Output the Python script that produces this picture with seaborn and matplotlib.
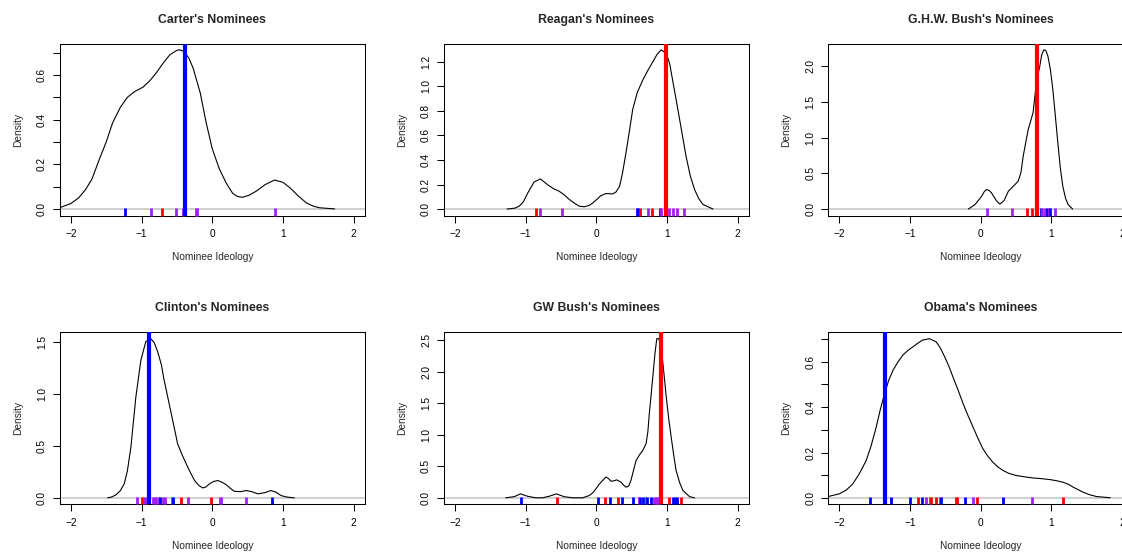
import numpy as np
import pandas as pd
import matplotlib
matplotlib.use("Agg")
import matplotlib.pyplot as plt
import seaborn as sns

sns.set_style("ticks")
plt.rcParams['font.family'] = ['Liberation Sans', 'DejaVu Sans']

# ---------------- data ----------------
titles = ["Carter's Nominees", "Reagan's Nominees", "G.H.W. Bush's Nominees",
          "Clinton's Nominees", "GW Bush's Nominees", "Obama's Nominees"]

# president ideology (vertical line) and party
pres_ideo = [-0.38, 0.98, 0.79, -0.90, 0.92, -1.36]
pres_party = ["D", "R", "R", "D", "R", "D"]

# density curves (x grid, density)
carter_x = [-2.16, -2.0, -1.89, -1.79, -1.7, -1.6, -1.5, -1.41, -1.3, -1.2, -1.1, -0.98, -0.88, -0.79,
            -0.7, -0.6, -0.5, -0.46, -0.42, -0.39, -0.33, -0.27, -0.17, -0.085, 0.0, 0.10, 0.2, 0.29,
            0.36, 0.43, 0.52, 0.62, 0.75, 0.88, 1.0, 1.10, 1.22, 1.33, 1.43, 1.52, 1.73]
carter_y = [0.006, 0.025, 0.05, 0.088, 0.135, 0.22, 0.30, 0.385, 0.455, 0.50, 0.525, 0.545, 0.575,
            0.61, 0.65, 0.69, 0.71, 0.712, 0.708, 0.70, 0.675, 0.63, 0.52, 0.385, 0.27, 0.18, 0.115,
            0.07, 0.056, 0.053, 0.062, 0.08, 0.11, 0.13, 0.12, 0.095, 0.058, 0.028, 0.013, 0.006, 0.001]

reagan_x = [-1.26, -1.15, -1.09, -1.03, -0.97, -0.88, -0.79, -0.69, -0.6, -0.525, -0.45, -0.38, -0.3,
            -0.24, -0.17, -0.1, -0.05, 0.0, 0.066, 0.137, 0.23, 0.28, 0.33, 0.37, 0.42, 0.47, 0.515,
            0.58, 0.657, 0.73, 0.80, 0.86, 0.917, 0.99, 1.04, 1.08, 1.13, 1.18, 1.27, 1.33, 1.39,
            1.45, 1.51, 1.65]
reagan_y = [0.001, 0.008, 0.024, 0.06, 0.13, 0.22, 0.246, 0.20, 0.165, 0.146, 0.115, 0.078, 0.045,
            0.024, 0.019, 0.03, 0.05, 0.075, 0.11, 0.127, 0.124, 0.14, 0.186, 0.29, 0.457, 0.64, 0.81,
            0.95, 1.05, 1.13, 1.2, 1.26, 1.297, 1.27, 1.18, 1.05, 0.89, 0.727, 0.43, 0.27, 0.16,
            0.085, 0.038, 0.001]

ghwb_x = [-0.175, -0.08, 0.013, 0.05, 0.083, 0.12, 0.15, 0.22, 0.27, 0.33, 0.39, 0.46, 0.53, 0.57,
          0.60, 0.67, 0.74, 0.79, 0.835, 0.86, 0.89, 0.92, 0.95, 0.985, 1.02, 1.055, 1.09, 1.125,
          1.16, 1.2, 1.235, 1.3]
ghwb_y = [0.001, 0.065, 0.18, 0.245, 0.275, 0.26, 0.23, 0.12, 0.07, 0.12, 0.25, 0.32, 0.39, 0.52,
          0.74, 1.11, 1.35, 1.8, 2.0, 2.15, 2.228, 2.22, 2.14, 1.95, 1.67, 1.3, 0.93, 0.58,
          0.32, 0.15, 0.065, 0.001]

clinton_x = [-1.48, -1.42, -1.36, -1.3, -1.245, -1.2, -1.15, -1.08, -1.01, -0.94, -0.87, -0.82, -0.77,
             -0.72, -0.68, -0.63, -0.58, -0.53, -0.49, -0.43, -0.37, -0.31, -0.25, -0.19, -0.135,
             -0.09, -0.04, 0.02, 0.078, 0.14, 0.196, 0.25, 0.31, 0.40, 0.48, 0.56, 0.645, 0.74,
             0.83, 0.9, 0.975, 1.06, 1.16]
clinton_y = [0.001, 0.01, 0.03, 0.07, 0.135, 0.26, 0.49, 0.97, 1.32, 1.5, 1.529, 1.49, 1.40,
             1.28, 1.13, 0.97, 0.81, 0.65, 0.52, 0.42, 0.33, 0.245, 0.167, 0.12, 0.096,
             0.105, 0.135, 0.158, 0.167, 0.15, 0.128, 0.095, 0.064, 0.06, 0.071, 0.06, 0.039, 0.05,
             0.071, 0.055, 0.022, 0.008, 0.001]

gwb_x = [-1.28, -1.16, -1.07, -0.97, -0.855, -0.76, -0.667, -0.563, -0.454, -0.336, -0.194, -0.1,
         -0.05, -0.005, 0.04, 0.09, 0.137, 0.17, 0.208, 0.25, 0.288, 0.35, 0.39, 0.42, 0.46, 0.49,
         0.53, 0.563, 0.61, 0.657, 0.705, 0.73, 0.75, 0.775, 0.80, 0.83, 0.856, 0.885, 0.917, 0.95,
         0.99, 1.025, 1.06, 1.095, 1.13, 1.18, 1.225, 1.32, 1.39]
gwb_y = [0.002, 0.02, 0.064, 0.026, 0.002, 0.002, 0.026, 0.064, 0.02, 0.002, 0.002, 0.037,
         0.08, 0.143, 0.215, 0.275, 0.33, 0.31, 0.265, 0.27, 0.286, 0.25, 0.2, 0.17, 0.19, 0.275,
         0.45, 0.59, 0.68, 0.75, 0.86, 1.05, 1.33, 1.62, 1.92, 2.28, 2.52, 2.52, 2.39, 2.05,
         1.6, 1.25, 0.96, 0.68, 0.43, 0.24, 0.117, 0.02, 0.002]

obama_x = [-2.16, -2.0, -1.9, -1.81, -1.72, -1.62, -1.55, -1.48, -1.42, -1.36, -1.3, -1.24, -1.17,
           -1.10, -1.03, -0.96, -0.89, -0.82, -0.725, -0.63, -0.57, -0.51, -0.45, -0.394, -0.32,
           -0.25, -0.18, -0.11, -0.04, 0.03, 0.1, 0.17, 0.24, 0.315, 0.4, 0.5, 0.62, 0.74, 0.86,
           0.975, 1.07, 1.165, 1.24, 1.31, 1.38, 1.45, 1.54, 1.64, 1.83]
obama_y = [0.006, 0.018, 0.035, 0.062, 0.105, 0.165, 0.23, 0.31, 0.39, 0.46, 0.52, 0.563, 0.60,
           0.63, 0.65, 0.666, 0.682, 0.696, 0.702, 0.688, 0.66, 0.622, 0.58, 0.534, 0.475,
           0.416, 0.363, 0.313, 0.263, 0.217, 0.184, 0.158, 0.137, 0.121, 0.108, 0.099, 0.093, 0.088,
           0.085, 0.081, 0.076, 0.069, 0.06, 0.047, 0.036, 0.025, 0.014, 0.006, 0.001]

# nominee ideology (rug) and colour group
carter_nom = [-1.23, -0.87, -0.71, -0.515, -0.42, -0.235, -0.215, 0.89]
carter_grp = ["D", "I", "R", "I", "I", "I", "I", "I"]

reagan_nom = [-0.85, -0.80, -0.49, 0.57, 0.595, 0.625, 0.735, 0.795, 0.895, 0.92, 1.035, 1.08,
              1.135, 1.245]
reagan_grp = ["R", "I", "I", "D", "D", "R", "I", "R", "D", "I", "I", "I", "I", "I"]

ghwb_nom = [0.09, 0.435, 0.66, 0.73, 0.85, 0.873, 0.91, 0.943, 0.967, 0.986, 1.047]
ghwb_grp = ["I", "I", "R", "R", "D", "I", "I", "D", "I", "D", "I"]

clinton_nom = [-1.065, -0.99, -0.968, -0.935, -0.84, -0.81, -0.79, -0.75, -0.737, -0.69, -0.67,
               -0.572, -0.55, -0.436, -0.337, -0.021, 0.106, 0.13, 0.483, 0.846]
clinton_grp = ["I", "R", "I", "I", "I", "I", "I", "I", "D", "I", "I", "I", "D", "R", "I", "R",
               "I", "I", "I", "D"]

gwb_nom = [-1.065, -0.556, 0.022, 0.13, 0.2, 0.305, 0.36, 0.52, 0.605, 0.625, 0.66, 0.70, 0.72,
           0.78, 0.82, 0.845, 0.865, 0.885, 0.90, 1.03, 1.08, 1.11, 1.135, 1.205]
gwb_grp = ["D", "R", "D", "R", "D", "R", "D", "D", "I", "D", "D", "I", "D", "D", "I", "I", "I",
           "I", "I", "R", "D", "D", "D", "R"]

obama_nom = [-1.56, -1.27, -0.996, -0.894, -0.835, -0.775, -0.717, -0.70, -0.635, -0.578, -0.557,
             -0.35, -0.332, -0.226, -0.106, -0.054, 0.321, 0.72, 1.16]
obama_grp = ["D", "D", "D", "R", "D", "I", "I", "R", "R", "R", "D", "R", "R", "D", "I", "R", "D",
             "I", "R"]

curves_x = [carter_x, reagan_x, ghwb_x, clinton_x, gwb_x, obama_x]
curves_y = [carter_y, reagan_y, ghwb_y, clinton_y, gwb_y, obama_y]
noms = [carter_nom, reagan_nom, ghwb_nom, clinton_nom, gwb_nom, obama_nom]
grps = [carter_grp, reagan_grp, ghwb_grp, clinton_grp, gwb_grp, obama_grp]

# y tick settings: (step, label every n-th)
ytick_step = [0.1, 0.2, 0.5, 0.5, 0.5, 0.1]
ytick_labevery = [2, 1, 1, 1, 1, 2]

palette = {"D": "#0000FF", "R": "#FF0000", "I": "#A020F0"}

# ---------------- layout ----------------
W, H = 1122, 555
fig = plt.figure(figsize=(W / 100, H / 100), dpi=100)
col_left = [59.5, 443.5, 828.0]
row_top = [43.5, 332.3]
aw, ah = 305.5, 172.0

fs_tick = 7.3
fs_title = 8.8

for i in range(6):
    r, c = divmod(i, 3)
    left = col_left[c] / W
    bottom = 1 - (row_top[r] + ah) / H
    ax = fig.add_axes([left, bottom, aw / W, ah / H])

    x = curves_x[i]
    y = curves_y[i]
    M = max(y)
    ax.axhline(0, color="#cfcfcf", lw=1.4, zorder=1)
    sns.lineplot(x=x, y=y, ax=ax, color="black", lw=0.8, sort=False, estimator=None, zorder=2)

    df = pd.DataFrame({"ideo": noms[i], "grp": grps[i]})
    sns.rugplot(data=df, x="ideo", hue="grp", palette=palette, height=0.042, linewidth=2.0,
                legend=False, ax=ax, zorder=3, clip_on=False)

    ax.axvline(pres_ideo[i], color=palette[pres_party[i]], lw=3.0, zorder=4)

    ax.set_xlim(-2.16, 2.16)
    ax.set_ylim(-0.04 * M, 1.04 * M)

    ax.set_xticks([-2, -1, 0, 1, 2])
    ax.set_xticklabels(["\u22122", "\u22121", "0", "1", "2"])
    step = ytick_step[i]
    n = int(np.floor(M / step + 1e-9))
    yt = [round(k * step, 2) for k in range(n + 1)]
    ax.set_yticks(yt)
    ax.set_yticklabels([f"{v:.1f}" if k % ytick_labevery[i] == 0 else "" for k, v in enumerate(yt)],
                       rotation=90, va="center")

    ax.tick_params(axis="both", direction="out", length=5, width=0.75, labelsize=fs_tick,
                   color="black", labelcolor="black")
    ax.tick_params(axis="x", pad=5)
    ax.tick_params(axis="y", pad=4)
    for sp in ax.spines.values():
        sp.set_visible(True)
        sp.set_color("black")
        sp.set_linewidth(0.75)

    ax.set_xlabel("Nominee Ideology", fontsize=fs_tick, labelpad=9)
    ax.set_ylabel("Density", fontsize=fs_tick, labelpad=10)
    ax.set_title(titles[i], fontsize=fs_title, fontweight="bold", pad=15)

fig.savefig("out.png", dpi=100)
